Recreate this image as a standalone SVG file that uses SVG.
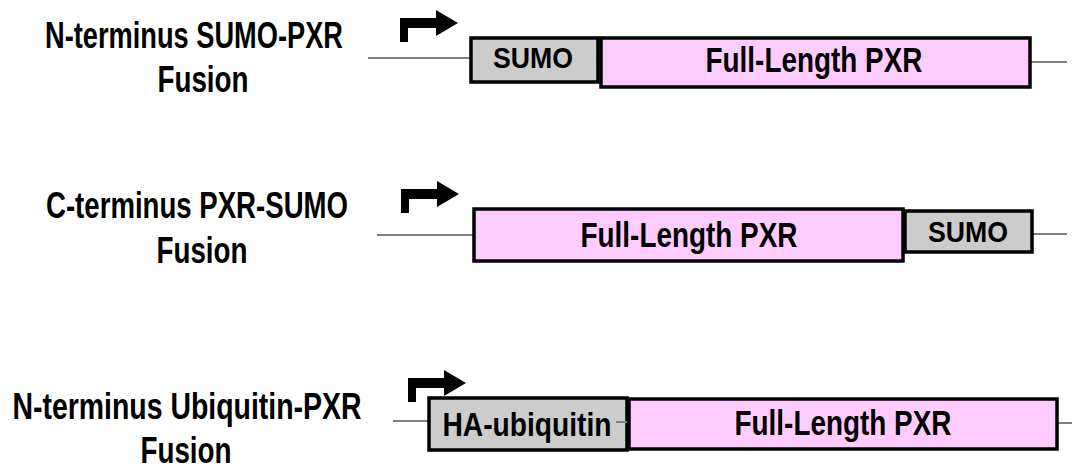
<svg xmlns="http://www.w3.org/2000/svg" width="1072" height="474" viewBox="0 0 1072 474">
<style>
.lbl{font-family:"Liberation Sans",Arial,sans-serif;font-weight:bold;font-size:36px;fill:#000;text-anchor:middle}
.bt{font-family:"Liberation Sans",Arial,sans-serif;font-weight:bold;fill:#000;text-anchor:middle}
.gray{fill:#cccccc;stroke:#000;stroke-width:3.5}
.pink{fill:#ffccff;stroke:#000;stroke-width:3.5}
.bb{stroke:#808080;stroke-width:2;fill:none}
</style>
<defs>
<path id="prom" d="M0,24 V0 H36 V-8 L58,5 L36,18 V10 H8 V24 Z" fill="#000"/>
</defs>
<rect width="1072" height="474" fill="#fff"/>
<g id="connectors">
<line class="bb" x1="368" y1="58" x2="471" y2="58"/>
<line class="bb" x1="597" y1="58" x2="602" y2="58"/>
<line class="bb" x1="1030" y1="62" x2="1067" y2="62"/>
<line class="bb" x1="377" y1="235" x2="474" y2="235"/>
<line class="bb" x1="1032" y1="234" x2="1067" y2="234"/>
<line class="bb" x1="393" y1="421" x2="429" y2="421"/>
<line class="bb" x1="1057" y1="423" x2="1072" y2="423"/>
</g>
<g id="label1">
<text class="lbl" x="194" y="48" textLength="298" lengthAdjust="spacingAndGlyphs">N-terminus SUMO-PXR</text>
<text class="lbl" x="203" y="92" textLength="91" lengthAdjust="spacingAndGlyphs">Fusion</text>
</g>
<g id="label2">
<text class="lbl" x="197" y="218" textLength="302" lengthAdjust="spacingAndGlyphs">C-terminus PXR-SUMO</text>
<text class="lbl" x="202" y="263" textLength="91" lengthAdjust="spacingAndGlyphs">Fusion</text>
</g>
<g id="label3">
<text class="lbl" x="187" y="419" textLength="349" lengthAdjust="spacingAndGlyphs">N-terminus Ubiquitin-PXR</text>
<text class="lbl" x="186" y="463" textLength="91" lengthAdjust="spacingAndGlyphs">Fusion</text>
</g>
<g id="promoter1"><use href="#prom" x="400" y="18"/></g>
<g id="promoter2"><use href="#prom" x="401" y="189"/></g>
<g id="promoter3"><use href="#prom" x="408" y="378"/></g>
<g id="sumo1">
<rect class="gray" x="471" y="38" width="127" height="44"/>
<text class="bt" x="533" y="68" font-size="30" textLength="80" lengthAdjust="spacingAndGlyphs">SUMO</text>
</g>
<g id="pxr1">
<rect class="pink" x="601" y="38" width="429" height="49"/>
<text class="bt" x="814" y="72" font-size="35" textLength="217" lengthAdjust="spacingAndGlyphs">Full-Length PXR</text>
</g>
<g id="pxr2">
<rect class="pink" x="474" y="209" width="429" height="52"/>
<text class="bt" x="689" y="247" font-size="35" textLength="217" lengthAdjust="spacingAndGlyphs">Full-Length PXR</text>
</g>
<g id="sumo2">
<rect class="gray" x="905" y="211" width="127" height="41"/>
<text class="bt" x="968" y="242" font-size="30" textLength="80" lengthAdjust="spacingAndGlyphs">SUMO</text>
</g>
<g id="ha3">
<rect class="gray" x="429" y="398" width="198" height="52"/>
<text class="bt" x="527" y="436" font-size="34" textLength="169" lengthAdjust="spacingAndGlyphs">HA-ubiquitin</text>
<line class="bb" x1="616" y1="422" x2="627" y2="422"/>
</g>
<g id="pxr3">
<rect class="pink" x="629" y="399" width="428" height="50"/>
<text class="bt" x="843" y="435" font-size="35" textLength="217" lengthAdjust="spacingAndGlyphs">Full-Length PXR</text>
</g>
</svg>
